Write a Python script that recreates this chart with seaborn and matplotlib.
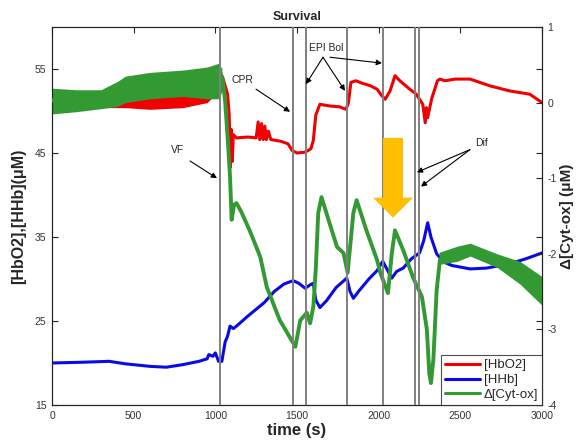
import numpy as np
import pandas as pd
import matplotlib
matplotlib.use("Agg")
import matplotlib.pyplot as plt
import seaborn as sns
from matplotlib.patches import FancyArrow
from matplotlib.lines import Line2D

# ---------------- data ----------------
hbo2_t = [0, 150, 300, 450, 600, 800, 900, 960, 1000, 1030, 1045, 1060, 1075, 1085, 1092, 1098,
          1104, 1110, 1130, 1200, 1250, 1262, 1272, 1283, 1293, 1303, 1313, 1325, 1340, 1400,
          1445, 1470, 1500, 1550, 1585, 1600, 1615, 1640, 1700, 1760, 1800, 1815, 1830, 1860,
          1900, 1950, 1990, 2020, 2040, 2070, 2100, 2130, 2190, 2230, 2270, 2285, 2292, 2300,
          2325, 2360, 2375, 2405, 2470, 2560, 2680, 2800, 2925, 3000]
hbo2_v = [50.8, 50.6, 50.8, 51.0, 51.0, 51.3, 51.8, 52.5, 53.6, 54.5, 54.0, 53.0, 52.0, 49.5, 43.3, 47.8,
          44.0, 47.2, 46.8, 46.9, 46.8, 48.7, 46.6, 48.5, 46.6, 48.2, 46.6, 47.6, 46.6, 46.4,
          46.1, 45.3, 45.0, 45.1, 45.5, 46.5, 49.5, 50.8, 50.6, 50.5, 50.2, 51.0, 53.4, 53.6,
          53.3, 53.0, 52.6, 51.8, 51.4, 52.4, 54.2, 53.6, 52.6, 52.0, 50.8, 48.6, 50.4, 49.2,
          51.5, 53.6, 53.8, 53.6, 53.8, 53.8, 53.0, 52.4, 52.0, 51.0]

hhb_t = [0, 200, 350, 450, 600, 700, 800, 900, 950, 960, 985, 1000, 1020, 1040, 1060, 1075,
         1090, 1110, 1130, 1200, 1300, 1360, 1420, 1476, 1510, 1550, 1580, 1600, 1615, 1640,
         1680, 1740, 1805, 1825, 1845, 1880, 1940, 1990, 2025, 2050, 2080, 2110, 2150, 2200,
         2250, 2275, 2300, 2320, 2355, 2400, 2450, 2560, 2660, 2800, 2900, 3000]
hhb_v = [20.0, 20.1, 20.2, 19.9, 19.6, 19.5, 19.8, 20.2, 20.5, 21.0, 20.8, 21.2, 20.2, 20.2, 22.5, 23.2,
         24.4, 24.1, 24.4, 25.6, 27.2, 28.5, 29.4, 29.8, 29.5, 28.9, 29.3, 29.5, 27.5, 26.6,
         27.4, 29.0, 30.1, 28.5, 27.7, 28.6, 30.0, 31.0, 32.1, 31.2, 30.1, 30.9, 31.3, 32.4,
         33.1, 34.5, 36.7, 35.0, 33.0, 32.0, 31.6, 31.2, 31.3, 31.8, 32.4, 33.1]

cyt_t = [0, 200, 350, 450, 600, 800, 950, 1000, 1030, 1045, 1060, 1075, 1090, 1100, 1115, 1130,
         1160, 1210, 1275, 1315, 1395, 1455, 1490, 1520, 1560, 1580, 1600, 1615, 1630, 1650,
         1700, 1745, 1785, 1810, 1830, 1845, 1865, 1925, 1990, 2010, 2057, 2080, 2100, 2150,
         2210, 2265, 2295, 2310, 2320, 2335, 2355, 2375, 2480, 2560, 2725, 2865, 3000]
cyt_v = [0.03, 0.03, 0.05, 0.18, 0.22, 0.25, 0.28, 0.28, 0.40, 0.30, 0.02, -0.45, -0.98, -1.55, -1.35, -1.33,
         -1.45, -1.69, -2.04, -2.44, -2.88, -3.10, -3.23, -2.88, -2.78, -2.92, -2.70, -2.20, -1.46, -1.25,
         -1.60, -1.91, -1.99, -2.25, -1.80, -1.46, -1.29, -1.69, -2.08, -2.25, -2.52, -2.00, -1.69, -1.95,
         -2.31, -2.57, -3.00, -3.58, -3.71, -3.40, -2.48, -2.08, -2.00, -1.95, -2.09, -2.25, -2.50]

# noise envelope of the thick green band
cyt_band1_t = [0, 150, 300, 400, 450, 600, 800, 950, 1020, 1040]
cyt_band1_lo = [-0.15, -0.12, -0.08, -0.05, 0.00, 0.05, 0.08, 0.05, 0.05, 0.15]
cyt_band1_hi = [0.19, 0.17, 0.17, 0.28, 0.35, 0.40, 0.43, 0.47, 0.52, 0.45]
cyt_band2_t = [2370, 2480, 2560, 2725, 2865, 3000]
cyt_band2_lo = [-2.14, -2.10, -2.03, -2.18, -2.40, -2.68]
cyt_band2_hi = [-1.98, -1.90, -1.86, -2.00, -2.10, -2.30]
# noise envelope of the red trace before VF
hbo2_band_t = [0, 300, 450, 600, 800, 950, 1000]
hbo2_band_lo = [50.3, 50.4, 50.4, 50.2, 50.4, 51.0, 52.0]
hbo2_band_hi = [51.2, 51.4, 51.6, 51.8, 52.0, 52.8, 54.0]

event_t = [1029, 1476, 1555, 1807, 2027, 2223, 2247]

x_ticks = [0, 500, 1000, 1500, 2000, 2500, 3000]
left_ticks = [15, 25, 35, 45, 55]
right_ticks = [-4, -3, -2, -1, 0, 1]
series_labels = ["[HbO2]", "[HHb]", "\u0394[Cyt-ox]"]

# ---------------- style ----------------
sns.set_style("white")
plt.rcParams["font.family"] = ["Liberation Sans", "DejaVu Sans"]
plt.rcParams["axes.unicode_minus"] = False

RED = "#f00000"
BLUE = "#0a0ae6"
GREEN = "#339933"
GRAY = "#808080"

fig = plt.figure(figsize=(5.77, 4.41), dpi=100)
ax = fig.add_axes([52 / 577, 36 / 441, 490 / 577, 378 / 441])
ax2 = ax.twinx()

# left axis series
ax.fill_between(hbo2_band_t, hbo2_band_lo, hbo2_band_hi, color=RED, lw=0, zorder=2)
sns.lineplot(x=hbo2_t, y=hbo2_v, ax=ax, color=RED, lw=2.2, zorder=3)
sns.lineplot(x=hhb_t, y=hhb_v, ax=ax, color=BLUE, lw=2.2, zorder=3)

# right axis series
ax2.fill_between(cyt_band1_t, cyt_band1_lo, cyt_band1_hi, color=GREEN, lw=0, zorder=2)
ax2.fill_between(cyt_band2_t, cyt_band2_lo, cyt_band2_hi, color=GREEN, lw=0, zorder=2)
sns.lineplot(x=cyt_t, y=cyt_v, ax=ax2, color=GREEN, lw=2.8, zorder=3)

for t in event_t:
    ax2.axvline(t, color=GRAY, lw=1.4, zorder=5)

# axes
ax.set_xlim(0, 3000)
ax.set_ylim(15, 60)
ax2.set_ylim(-4, 1)
ax.set_xticks(x_ticks)
ax.set_yticks(left_ticks)
ax2.set_yticks(right_ticks)
ax.tick_params(direction="in", length=4, width=0.8, top=True, right=True,
               labelsize=7.5, labelcolor="#333333", pad=4)
ax2.tick_params(direction="in", length=4, width=0.8, labelsize=7.5,
                labelcolor="#333333", pad=4)
for a in (ax, ax2):
    for s in a.spines.values():
        s.set_color("#222222")
        s.set_linewidth(0.8)

ax.set_xlabel("time (s)", fontsize=12, fontweight="bold", labelpad=2)
ax.set_ylabel("[HbO2],[HHb](\u03bcM)", fontsize=11.5, fontweight="bold", labelpad=6)
ax2.set_ylabel("\u0394[Cyt-ox] (\u03bcM)", fontsize=11, fontweight="bold", labelpad=2)
ax.set_title("Survival", fontsize=9, fontweight="bold", pad=5)

# annotations (left-axis data coordinates)
akw = dict(arrowstyle="-|>", color="black", lw=0.8, mutation_scale=8, shrinkA=0, shrinkB=0)
tkw = dict(fontsize=7.5, color="#222222", ha="center", va="center")
T = ax.transData

ax2.annotate("", xy=(1010, 42.0), xytext=(845, 44.05), xycoords=T, textcoords=T, arrowprops=akw, zorder=6)
ax2.text(771, 45.4, "VF", transform=T, zorder=6, **tkw)

ax2.annotate("", xy=(1457, 49.9), xytext=(1249, 52.6), xycoords=T, textcoords=T, arrowprops=akw, zorder=6)
ax2.text(1163, 53.7, "CPR", transform=T, zorder=6, **tkw)

ax2.text(1677, 57.5, "EPI Bol", transform=T, zorder=6, **tkw)
ax2.annotate("", xy=(1555, 53.2), xytext=(1659, 56.4), xycoords=T, textcoords=T, arrowprops=akw, zorder=6)
ax2.annotate("", xy=(1794, 52.4), xytext=(1659, 56.4), xycoords=T, textcoords=T, arrowprops=akw, zorder=6)
ax2.annotate("", xy=(2020, 55.7), xytext=(1702, 56.4), xycoords=T, textcoords=T, arrowprops=akw, zorder=6)

ax2.text(2632, 46.2, "Dif", transform=T, zorder=6, **tkw)
ax2.annotate("", xy=(2234, 42.7), xytext=(2559, 45.4), xycoords=T, textcoords=T, arrowprops=akw, zorder=6)
ax2.annotate("", xy=(2259, 41.0), xytext=(2559, 45.4), xycoords=T, textcoords=T, arrowprops=akw, zorder=6)

# big orange arrow
arr = FancyArrow(2088, 46.8, 0, -9.5, width=122, head_width=245, head_length=2.38,
                 length_includes_head=True, color="#ffbf00", lw=0, transform=T, zorder=7)
ax2.add_patch(arr)

ax.set_xlim(0, 3000)
ax.set_ylim(15, 60)
ax2.set_ylim(-4, 1)

# legend
handles = [Line2D([], [], color=RED, lw=2.2), Line2D([], [], color=BLUE, lw=2.2),
           Line2D([], [], color=GREEN, lw=2.2)]
leg = ax2.legend(handles, series_labels, loc="lower right", bbox_to_anchor=(1.0, 0.0),
                 borderaxespad=0, fontsize=9.5, frameon=True, fancybox=False,
                 handlelength=2.6, handletextpad=0.3, labelspacing=0.2, borderpad=0.3)
leg.get_frame().set_edgecolor("#222222")
leg.get_frame().set_linewidth(0.8)
leg.set_zorder(10)

fig.savefig("out.png", dpi=100)
